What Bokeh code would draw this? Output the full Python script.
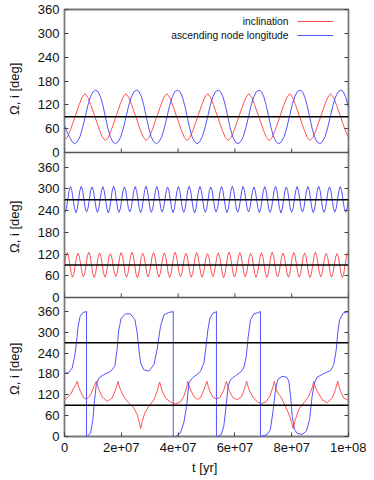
import numpy as np
from bokeh.plotting import figure
from bokeh.layouts import row
from bokeh.models import (Range1d, LinearAxis, FixedTicker, Label, Legend,
                          LegendItem, Span, ColumnDataSource)
from bokeh.core.properties import value
from bokeh.embed import file_html
from bokeh.resources import INLINE

MYR = 1e6  # times below are in Myr

# ---------------- data ----------------
x_ticks = [0, 2e7, 4e7, 6e7, 8e7, 1e8]
x_tick_labels = ["0", "2e+07", "4e+07", "6e+07", "8e+07", "1e+08"]
y_tick_values = [0, 60, 120, 180, 240, 300, 360]
legend_labels = ["inclination", "ascending node longitude"]
y_label = "\u03a9, i  [deg]"
x_label = "t  [yr]"

# --- panel 1 (top) ---
top_inc_t = [0.0, 1.0, 2.0, 3.6, 5.2, 6.2, 7.2, 8.2, 9.2, 10.8, 12.4, 13.4,
             14.4, 15.4, 16.4, 18.0, 19.6, 20.6, 21.6, 22.6, 23.6, 25.2, 26.8, 27.8,
             28.8, 29.8, 30.8, 32.4, 34.0, 35.0, 36.0, 37.0, 38.0, 39.6, 41.2, 42.2,
             43.2, 44.2, 45.2, 46.8, 48.4, 49.4, 50.4, 51.4, 52.4, 54.0, 55.6, 56.6,
             57.7, 58.7, 59.7, 61.3, 62.9, 63.9, 64.9, 65.9, 66.9, 68.5, 70.1, 71.1,
             72.1, 73.1, 74.1, 75.7, 77.3, 78.3, 79.3, 80.3, 81.3, 82.9, 84.5, 85.5,
             86.5, 87.5, 88.5, 90.1, 91.7, 92.7, 93.7, 94.7, 95.7, 97.3, 98.9, 100.0]
top_inc_v = [32, 38, 55, 88, 121, 139, 148, 139, 121, 88, 55, 38,
             30, 38, 55, 88, 121, 139, 148, 139, 121, 88, 55, 38,
             30, 38, 55, 88, 121, 139, 148, 139, 121, 88, 55, 38,
             30, 38, 55, 88, 121, 139, 148, 139, 121, 88, 55, 38,
             30, 38, 55, 88, 121, 139, 148, 139, 121, 88, 55, 38,
             30, 38, 55, 88, 121, 139, 148, 139, 121, 88, 55, 38,
             30, 38, 55, 88, 121, 139, 148, 139, 121, 88, 55, 37]

top_node_t = [0.0, 0.9, 1.8, 2.7,
              3.6, 4.5, 5.45, 6.35, 7.3, 8.2, 9.15, 10.05, 11.0, 11.85, 12.7, 13.55, 14.4, 15.25, 16.1, 17.0,
              18.0, 18.9, 19.85, 20.75, 21.7, 22.6, 23.55, 24.45, 25.4, 26.25, 27.1, 27.95, 28.8, 29.65, 30.5, 31.4,
              32.4, 33.3, 34.25, 35.15, 36.1, 37.0, 37.95, 38.85, 39.8, 40.65, 41.5, 42.35, 43.2, 44.05, 44.9, 45.8,
              46.7, 47.6, 48.55, 49.45, 50.4, 51.3, 52.25, 53.15, 54.1, 54.95, 55.8, 56.65, 57.5, 58.35, 59.2, 60.1,
              61.1, 62.0, 62.95, 63.85, 64.8, 65.7, 66.65, 67.55, 68.5, 69.35, 70.2, 71.05, 71.9, 72.75, 73.6, 74.5,
              75.5, 76.4, 77.35, 78.25, 79.2, 80.1, 81.05, 81.95, 82.9, 83.75, 84.6, 85.45, 86.3, 87.15, 88.0, 88.9,
              89.9, 90.8, 91.75, 92.65, 93.6, 94.5, 95.45, 96.35, 97.3, 98.15, 99.0, 99.85, 100.0]
top_node_v = [68, 52, 38, 27,
              22, 27, 40, 62, 90, 118, 140, 153, 157, 153, 140, 118, 90, 62, 40, 27,
              22, 27, 40, 62, 90, 118, 140, 153, 157, 153, 140, 118, 90, 62, 40, 27,
              22, 27, 40, 62, 90, 118, 140, 153, 157, 153, 140, 118, 90, 62, 40, 27,
              22, 27, 40, 62, 90, 118, 140, 153, 157, 153, 140, 118, 90, 62, 40, 27,
              22, 27, 40, 62, 90, 118, 140, 153, 157, 153, 140, 118, 90, 62, 40, 27,
              22, 27, 40, 62, 90, 118, 140, 153, 157, 153, 140, 118, 90, 62, 40, 27,
              22, 27, 40, 62, 90, 118, 140, 153, 157, 153, 140, 118, 113]
top_ref_levels = [90]

# --- panel 2 (middle): values sampled every MID_STEP Myr ---
MID_STEP = 0.475
MID_INC_T0 = 0.0
MID_NODE_T0 = 0.2
mid_inc_v = [90, 114, 124, 114, 90, 66, 56, 66,
             90, 113, 122, 113, 90, 67, 57, 67,
             90, 115, 125, 115, 90, 65, 55, 65,
             90, 113, 123, 113, 90, 66, 56, 66,
             90, 112, 121, 112, 90, 67, 58, 67,
             90, 114, 124, 114, 90, 66, 56, 66,
             90, 115, 125, 115, 90, 65, 55, 65,
             90, 113, 122, 113, 90, 67, 57, 67,
             90, 114, 124, 114, 90, 66, 56, 66,
             90, 113, 123, 113, 90, 65, 55, 65,
             90, 115, 125, 115, 90, 67, 57, 67,
             90, 113, 122, 113, 90, 66, 56, 66,
             90, 114, 124, 114, 90, 66, 56, 66,
             90, 112, 121, 112, 90, 67, 58, 67,
             90, 113, 123, 113, 90, 65, 55, 65,
             90, 115, 125, 115, 90, 66, 56, 66,
             90, 114, 124, 114, 90, 67, 57, 67,
             90, 113, 122, 113, 90, 66, 56, 66,
             90, 113, 123, 113, 90, 65, 55, 65,
             90, 115, 125, 115, 90, 67, 57, 67,
             90, 113, 122, 113, 90, 66, 56, 66,
             90, 114, 124, 114, 90, 66, 56, 66,
             90, 113, 123, 113, 90, 65, 55, 65,
             90, 115, 125, 115, 90, 67, 57, 67,
             90, 113, 122, 113, 90, 66, 56, 66,
             90, 112, 121, 112, 90, 65, 55, 65,
             90, 114, 124]
mid_node_v = [235, 245, 270, 295, 306, 295, 270, 245,
              234, 244, 270, 296, 307, 296, 270, 244,
              236, 246, 270, 295, 305, 295, 270, 246,
              235, 245, 270, 295, 306, 295, 270, 245,
              233, 244, 270, 296, 307, 296, 270, 244,
              235, 245, 270, 295, 305, 295, 270, 245,
              236, 246, 270, 295, 306, 295, 270, 246,
              234, 244, 270, 296, 307, 296, 270, 244,
              235, 245, 270, 295, 306, 295, 270, 245,
              236, 246, 270, 295, 305, 295, 270, 246,
              234, 244, 270, 295, 306, 295, 270, 244,
              235, 245, 270, 296, 307, 296, 270, 245,
              233, 244, 270, 295, 306, 295, 270, 244,
              235, 245, 270, 295, 305, 295, 270, 245,
              236, 246, 270, 295, 306, 295, 270, 246,
              234, 244, 270, 296, 307, 296, 270, 244,
              235, 245, 270, 295, 306, 295, 270, 245,
              236, 246, 270, 295, 305, 295, 270, 246,
              234, 244, 270, 295, 306, 295, 270, 244,
              235, 245, 270, 296, 307, 296, 270, 245,
              233, 244, 270, 295, 305, 295, 270, 244,
              235, 245, 270, 295, 306, 295, 270, 245,
              236, 246, 270, 295, 306, 295, 270, 246,
              234, 244, 270, 296, 307, 296, 270, 244,
              235, 245, 270, 295, 305, 295, 270, 245,
              236, 246, 270, 295, 306, 295, 270, 246,
              235, 245, 270]
mid_inc_t = [MID_INC_T0 + MID_STEP * k for k in range(len(mid_inc_v))]
mid_node_t = [MID_NODE_T0 + MID_STEP * k for k in range(len(mid_node_v))]
mid_ref_levels = [90, 270]

# --- panel 3 (bottom) ---
bot_inc_t = [0.0, 1.0, 2.1, 3.3, 4.0, 4.5, 5.0, 5.6, 6.8, 7.8,
             9.2, 10.3, 10.8, 11.2, 11.7, 12.1, 13.3, 15.0, 16.8, 18.0,
             18.5, 18.8, 19.2, 19.7, 20.9, 22.6, 24.4, 25.6, 26.4, 26.8,
             27.4, 28.3, 29.7, 31.5, 32.6, 33.1, 33.5, 33.9, 34.4, 35.6,
             37.3, 39.1, 40.8, 42.0, 43.0, 43.4, 43.9, 44.4, 45.5, 46.8,
             47.9, 49.0, 49.7, 50.1, 50.6, 51.2, 52.3, 53.5, 54.8, 56.0,
             56.6, 57.0, 57.5, 58.0, 59.3, 60.8, 62.3, 63.4, 63.8, 64.1,
             64.6, 65.2, 66.6, 68.2, 69.6, 71.0, 72.4, 73.3, 73.9, 74.4,
             75.0, 76.1, 77.8, 79.3, 80.0, 80.5, 81.3, 82.5, 84.3, 86.0,
             87.2, 87.8, 88.3, 89.0, 90.7, 92.5, 94.3, 95.4, 95.8, 96.2,
             96.7, 97.2, 98.3, 99.5, 100.0]
bot_inc_v = [106, 112, 121, 140, 150, 159, 143, 130, 111, 107,
             120, 143, 151, 159, 145, 135, 114, 101, 111, 135,
             148, 159, 147, 135, 114, 97, 82, 63, 39, 23,
             44, 68, 87, 106, 130, 145, 157, 145, 130, 111,
             99, 94, 99, 116, 140, 159, 145, 134, 116, 106,
             112, 133, 148, 159, 145, 130, 113, 108, 113, 132,
             148, 159, 145, 132, 112, 106, 114, 138, 149, 159,
             145, 130, 110, 98, 95, 100, 118, 140, 159, 140,
             126, 116, 87, 58, 40, 23, 49, 78, 97, 116,
             140, 159, 143, 130, 106, 97, 111, 135, 148, 159,
             143, 130, 111, 106, 104]
bot_node_t = [0.0, 1.5, 2.7, 3.6, 4.2, 4.8, 5.5, 6.5, 7.6, 7.75,
              7.75, 8.0, 9.2, 10.0, 10.6, 11.2, 12.1, 13.8, 16.2, 17.7,
              18.5, 19.1, 20.0, 21.5, 23.2, 24.8, 25.6, 26.2, 26.8, 27.9,
              29.7, 31.5, 32.6, 33.8, 35.0, 36.7, 38.1, 38.3, 38.3, 39.1,
              40.8, 42.0, 43.0, 43.8, 45.0, 47.3, 47.9, 49.1, 49.7, 50.5,
              51.2, 52.3, 53.3, 53.5, 53.5, 53.8, 55.2, 56.1, 56.9, 57.6,
              58.5, 60.2, 62.0, 63.1, 64.0, 64.7, 65.5, 66.7, 68.4, 69.0,
              69.0, 69.2, 71.4, 72.5, 73.5, 74.3, 75.1, 76.6, 78.2, 79.0,
              79.6, 80.2, 81.0, 81.9, 83.7, 85.2, 86.3, 87.2, 88.0, 89.0,
              91.3, 93.7, 94.8, 95.7, 96.2, 96.9, 98.1, 99.5, 100.0]
bot_node_v = [181, 184, 197, 231, 269, 317, 346, 357, 359, 360,
              0, 1, 10, 49, 106, 149, 168, 178, 187, 202,
              250, 307, 341, 353, 353, 336, 298, 250, 212, 192,
              188, 207, 250, 317, 350, 357, 359, 360, 0, 0,
              10, 39, 87, 154, 168, 183, 188, 212, 250, 307,
              341, 355, 358, 360, 0, 0, 6, 30, 87, 145,
              164, 175, 185, 197, 230, 288, 336, 353, 357, 360,
              0, 0, 6, 20, 78, 135, 164, 173, 171, 159,
              116, 58, 20, 9, 6, 16, 49, 116, 154, 171,
              181, 190, 207, 250, 298, 336, 355, 358, 359]
bot_ref_levels = [90, 270]

# ---------------- layout / style ----------------
LW = 24                     # width of the strip holding the y labels
W, H = 342, 478             # main figure
BL, BR, BT, BB = 40, 18, 9, 42
FRAME_H = H - BT - BB
X0, X1 = 0, 1e8
# band in frame pixels (from bottom) and value range of each panel
BANDS = {"bot": (0, 139, 400), "mid": (139, 284, 400), "top": (284, FRAME_H, 360)}
FONT = "Liberation Sans"
RED, BLUE, BLACK = "#ff5252", "#5252ff", "#000000"
TICK_COLOR = "#444444"
TICK_LEN = 4


def band_pos(name, v):
    b0, b1, vmax = BANDS[name]
    return b0 + v * (b1 - b0) / vmax


p = figure(width=W, height=H, x_range=Range1d(X0, X1), y_range=Range1d(0, FRAME_H),
           output_backend="svg", toolbar_location=None,
           min_border_left=BL, min_border_right=BR, min_border_top=BT, min_border_bottom=BB)
extra = {}
for name, (b0, b1, vmax) in BANDS.items():
    s = vmax / (b1 - b0)
    extra[name] = Range1d(start=-b0 * s, end=vmax + (FRAME_H - b1) * s)
p.extra_y_ranges = extra

p.grid.visible = False
p.outline_line_color = "#7a7a7a"
p.outline_line_width = 1.8
p.background_fill_color = "white"
p.border_fill_color = "white"

# y ticks for all three panels on one axis
ytick_pos = []
ylab = {}
for name in ["bot", "mid", "top"]:
    for v in y_tick_values:
        pos = round(band_pos(name, v), 4)
        ytick_pos.append(pos)
        ylab[pos] = str(v)

yax = p.yaxis[0]
yax.ticker = FixedTicker(ticks=ytick_pos)
yax.major_label_overrides = ylab
yax.major_label_text_font = FONT
yax.major_label_text_font_size = "13px"
yax.major_label_text_color = "#111111"
yax.major_label_standoff = 5
yax.major_tick_in = TICK_LEN
yax.major_tick_out = 0
yax.minor_tick_in = 0
yax.minor_tick_out = 0
yax.major_tick_line_color = TICK_COLOR
yax.axis_line_color = None

rax = LinearAxis(ticker=FixedTicker(ticks=ytick_pos),
                 major_label_overrides={k: "" for k in ytick_pos},
                 major_label_standoff=0, major_tick_in=TICK_LEN, major_tick_out=0,
                 minor_tick_in=0, minor_tick_out=0, major_tick_line_color=TICK_COLOR,
                 axis_line_color=None, major_label_text_font_size="1px")
p.add_layout(rax, "right")

xax = p.xaxis[0]
xax.ticker = FixedTicker(ticks=x_ticks)
xax.major_label_overrides = dict(zip(x_ticks, x_tick_labels))
xax.major_label_text_font = FONT
xax.major_label_text_font_size = "13px"
xax.major_label_text_color = "#111111"
xax.major_label_standoff = 6
xax.major_tick_in = TICK_LEN
xax.major_tick_out = 0
xax.minor_tick_in = 0
xax.minor_tick_out = 0
xax.major_tick_line_color = TICK_COLOR
xax.axis_line_color = None
xax.axis_label = x_label
xax.axis_label_text_font = FONT
xax.axis_label_text_font_size = "13px"
xax.axis_label_text_font_style = "normal"
xax.axis_label_text_color = "#111111"
xax.axis_label_standoff = 5

# panel separators and inner x ticks of upper panels
for name in ["bot", "mid"]:
    b = BANDS[name][1]
    p.add_layout(Span(location=b, dimension="width", line_color="#555555", line_width=1.5))
    p.segment(x0=x_ticks, y0=[b] * len(x_ticks), x1=x_ticks, y1=[b + TICK_LEN] * len(x_ticks),
              line_color=TICK_COLOR, line_width=1)


def draw(t_myr, v, rng, color, width=1.0):
    src = ColumnDataSource(dict(x=np.asarray(t_myr, dtype=float) * MYR, y=v))
    return p.line("x", "y", source=src, y_range_name=rng, line_color=color, line_width=width)


r_inc = draw(top_inc_t, top_inc_v, "top", RED)
r_node = draw(top_node_t, top_node_v, "top", BLUE)
draw(mid_inc_t, mid_inc_v, "mid", RED)
draw(mid_node_t, mid_node_v, "mid", BLUE)
draw(bot_inc_t, bot_inc_v, "bot", RED)
draw(bot_node_t, bot_node_v, "bot", BLUE)

for rng, levels in [("top", top_ref_levels), ("mid", mid_ref_levels), ("bot", bot_ref_levels)]:
    for lv in levels:
        p.line([X0, X1], [lv, lv], y_range_name=rng, line_color=BLACK, line_width=1.5)

# gnuplot-style key: text, then line sample
ROW_VALUES = [330, 295]
ROW_H = 14
for lbl, rv in zip(legend_labels, ROW_VALUES):
    p.add_layout(Label(x=7.89e7, y=band_pos("top", rv), text=lbl, text_align="right",
                       text_baseline="middle", text_font=FONT, text_font_size="10.3px",
                       text_color="#111111"))
leg_top_below = (FRAME_H - band_pos("top", ROW_VALUES[0])) - ROW_H / 2
leg = Legend(items=[LegendItem(label=" ", renderers=[r_inc]),
                    LegendItem(label=" ", renderers=[r_node])],
             location=(233, FRAME_H - leg_top_below - 2 * ROW_H),
             glyph_width=36, glyph_height=ROW_H, label_height=ROW_H, spacing=0,
             padding=0, margin=0, label_standoff=0, border_line_color=None,
             background_fill_alpha=0, label_text_font_size="6px")
p.add_layout(leg)

# strip on the left with one rotated y label per panel
lab = figure(width=LW, height=H, x_range=Range1d(0, 1), y_range=Range1d(0, FRAME_H),
             output_backend="svg", toolbar_location=None,
             min_border_left=0, min_border_right=0, min_border_top=BT, min_border_bottom=BB)
lab.axis.visible = False
lab.grid.visible = False
lab.outline_line_color = None
lab.border_fill_color = "white"
lab.background_fill_color = "white"
label_centres = [band_pos("top", 165), band_pos("mid", 200), band_pos("bot", 200)]
lab.text(x=[0.6] * 3, y=label_centres, text=[y_label] * 3, angle=np.pi / 2,
         text_align="center", text_baseline="middle", text_font=value(FONT),
         text_font_size="13px", text_color="#111111")

layout = row(lab, p, spacing=0)
open("out.html", "w").write(file_html(layout, INLINE))
